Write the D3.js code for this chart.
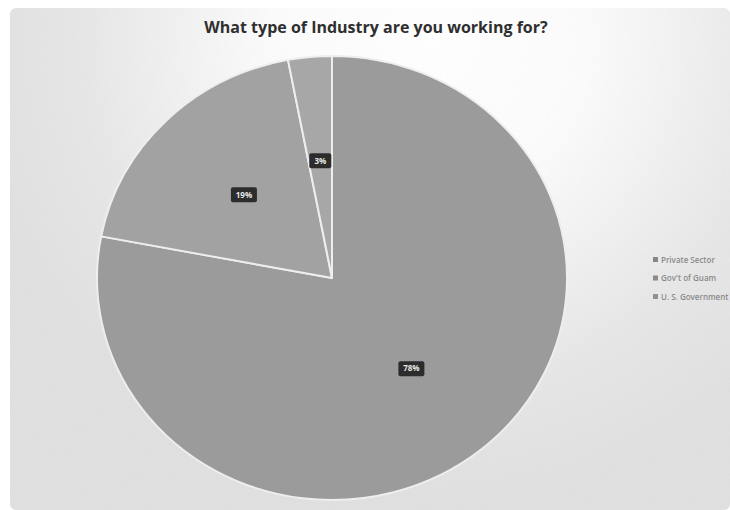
<!DOCTYPE html>
<html>
<head>
<meta charset="utf-8">
<script src="https://cdn.jsdelivr.net/npm/d3@7"></script>
<style>
  html, body { margin: 0; padding: 0; background: #ffffff; }
  svg { display: block; }
</style>
</head>
<body>
<svg id="chart" width="730" height="510"></svg>
<script>
// Survey answers: share of respondents by employer type
const categories = ["Private Sector", "Gov't of Guam", "U. S. Government"];
const shares = [78, 19, 3];
const valueLabels = ["78%", "19%", "3%"];
const chartTitle = "What type of Industry are you working for?";

const sliceColors = ["#9b9b9b", "#a2a2a2", "#a7a7a7"];

const W = 730, H = 510;
const svg = d3.select("#chart");
const defs = svg.append("defs");

// soft light backdrop, brighter near the top
const bg = defs.append("radialGradient")
  .attr("id", "bgGlow")
  .attr("gradientUnits", "userSpaceOnUse")
  .attr("cx", 430).attr("cy", 40).attr("r", 460);
bg.append("stop").attr("offset", 0).attr("stop-color", "#ffffff");
bg.append("stop").attr("offset", 0.35).attr("stop-color", "#fbfbfb");
bg.append("stop").attr("offset", 0.75).attr("stop-color", "#e7e7e7");
bg.append("stop").attr("offset", 1).attr("stop-color", "#e0e0e0");

// paper grain
const grain = defs.append("filter").attr("id", "grain")
  .attr("x", 0).attr("y", 0).attr("width", 1).attr("height", 1);
grain.append("feTurbulence").attr("type", "fractalNoise")
  .attr("baseFrequency", 0.55).attr("numOctaves", 2).attr("seed", 4).attr("result", "n");
grain.append("feColorMatrix").attr("in", "n").attr("type", "matrix")
  .attr("values", "0 0 0 0 0.5  0 0 0 0 0.5  0 0 0 0 0.5  0.9 0 0 0 -0.25").attr("result", "g");
grain.append("feComposite").attr("in", "g").attr("in2", "SourceGraphic").attr("operator", "in");

svg.append("rect").attr("x", 0).attr("y", 0).attr("width", W).attr("height", H).attr("fill", "#ffffff");
svg.append("rect").attr("x", 10).attr("y", 8).attr("width", W - 10).attr("height", H - 8)
  .attr("rx", 6).attr("fill", "url(#bgGlow)");
svg.append("rect").attr("x", 10).attr("y", 8).attr("width", W - 10).attr("height", H - 8)
  .attr("rx", 6).attr("fill", "#000").attr("opacity", 0.10).attr("filter", "url(#grain)");

// title
svg.append("text")
  .attr("x", 376).attr("y", 33)
  .attr("text-anchor", "middle")
  .attr("font-family", "Open Sans, sans-serif")
  .attr("font-weight", "bold")
  .attr("font-size", 16)
  .attr("fill", "#2f2f2f")
  .text(chartTitle);

// pie (slightly flattened vertically)
const cx = 332, cy = 278, R = 235, yScale = 222 / 235;
const pie = d3.pie().sort(null).value(d => d)(shares);
const arc = d3.arc().innerRadius(0).outerRadius(R);
const labelArc = d3.arc().innerRadius(R * 0.53).outerRadius(R * 0.53);

const g = svg.append("g").attr("transform", `translate(${cx},${cy}) scale(1,${yScale})`);
g.selectAll("path.slice")
  .data(pie)
  .join("path")
  .attr("class", "slice")
  .attr("d", arc)
  .attr("fill", (d, i) => sliceColors[i])
  .attr("stroke", "#eeeeee")
  .attr("stroke-width", 2)
  .attr("stroke-linejoin", "round");

// value labels on dark tags
const tags = svg.append("g").attr("transform", `translate(${cx},${cy})`)
  .selectAll("g.tag")
  .data(pie)
  .join("g")
  .attr("class", "tag")
  .attr("transform", d => {
    const [x, y] = labelArc.centroid(d);
    return `translate(${x},${y * yScale})`;
  });
tags.append("rect")
  .attr("x", (d, i) => valueLabels[i].length > 2 ? -13 : -11)
  .attr("y", -7.5)
  .attr("width", (d, i) => valueLabels[i].length > 2 ? 26 : 22)
  .attr("height", 15)
  .attr("rx", 2)
  .attr("fill", "#2c2c2c");
tags.append("text")
  .attr("text-anchor", "middle")
  .attr("dy", "0.35em")
  .attr("font-family", "Open Sans, sans-serif")
  .attr("font-weight", "bold")
  .attr("font-size", 8)
  .attr("fill", "#e8e8e8")
  .text((d, i) => valueLabels[i]);

// legend
const legend = svg.append("g").attr("transform", "translate(653,260)");
const items = legend.selectAll("g.item")
  .data(categories)
  .join("g")
  .attr("class", "item")
  .attr("transform", (d, i) => `translate(0,${i * 18.5})`);
items.append("rect")
  .attr("x", 0).attr("y", -3).attr("width", 5).attr("height", 5)
  .attr("fill", (d, i) => d3.color(sliceColors[i]).darker(0.4));
items.append("text")
  .attr("x", 8).attr("dy", "0.32em")
  .attr("font-family", "Open Sans, sans-serif")
  .attr("font-weight", 600)
  .attr("font-size", 8)
  .attr("fill", "#8a8a8a")
  .text(d => d);
</script>
</body>
</html>
